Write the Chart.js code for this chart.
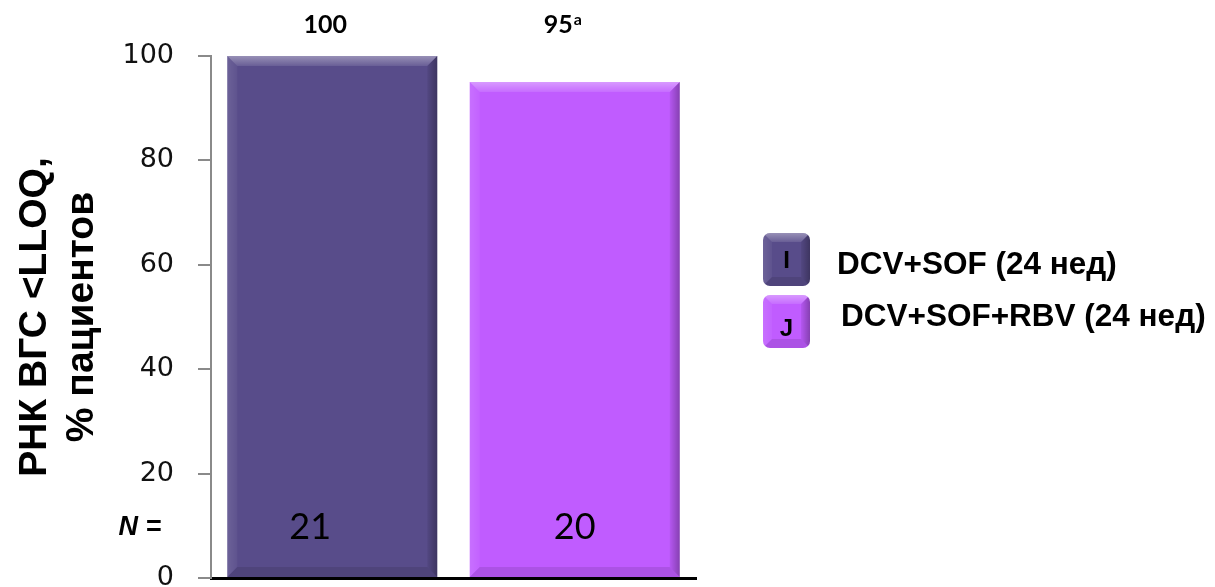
<!DOCTYPE html>
<html>
<head>
<meta charset="utf-8">
<script src="https://cdn.jsdelivr.net/npm/chart.js@4"></script>
<style>
  html, body { margin: 0; padding: 0; background: #ffffff; }
  #wrap { position: relative; width: 1215px; height: 587px; }
</style>
</head>
<body>
<div id="wrap"><canvas id="chart" width="1215" height="587"></canvas></div>
<script>
// Treatment arms, response rates (%) and patient numbers
const categories = ['DCV+SOF (24 нед)', 'DCV+SOF+RBV (24 нед)'];
const responseRates = [100, 95];
const rateNotes = ['', 'a'];
const patientCounts = [21, 20];
const legendKeys = ['I', 'J'];
const yTickValues = [0, 20, 40, 60, 80, 100];
const axisTitle = ['РНК ВГС <LLOQ,', '% пациентов'];
const countPrefix = 'N =';

const barColors = ['#584c8a', '#c05cff'];
const SANS = '"Liberation Sans", Arial, sans-serif';
const SOFT = 'Lato, "Open Sans", sans-serif';

// Glossy bevel on top of a rectangle (bars and legend keys)
function bevel(ctx, left, top, right, bottom, b) {
  ctx.save();
  // top band
  let g = ctx.createLinearGradient(0, top, 0, top + b);
  g.addColorStop(0, 'rgba(255,255,255,0.38)');
  g.addColorStop(1, 'rgba(255,255,255,0.10)');
  ctx.fillStyle = g;
  ctx.beginPath();
  ctx.moveTo(left, top); ctx.lineTo(right, top);
  ctx.lineTo(right - b, top + b); ctx.lineTo(left + b, top + b);
  ctx.closePath(); ctx.fill();
  // left band
  g = ctx.createLinearGradient(left, 0, left + b, 0);
  g.addColorStop(0, 'rgba(255,255,255,0.12)');
  g.addColorStop(1, 'rgba(255,255,255,0.04)');
  ctx.fillStyle = g;
  ctx.beginPath();
  ctx.moveTo(left, top); ctx.lineTo(left + b, top + b);
  ctx.lineTo(left + b, bottom - b); ctx.lineTo(left, bottom);
  ctx.closePath(); ctx.fill();
  // right band
  g = ctx.createLinearGradient(right - b, 0, right, 0);
  g.addColorStop(0, 'rgba(0,0,0,0.06)');
  g.addColorStop(1, 'rgba(0,0,0,0.30)');
  ctx.fillStyle = g;
  ctx.beginPath();
  ctx.moveTo(right, top); ctx.lineTo(right - b, top + b);
  ctx.lineTo(right - b, bottom - b); ctx.lineTo(right, bottom);
  ctx.closePath(); ctx.fill();
  // bottom band
  ctx.fillStyle = 'rgba(0,0,0,0.10)';
  ctx.beginPath();
  ctx.moveTo(left, bottom); ctx.lineTo(right, bottom);
  ctx.lineTo(right - b, bottom - b); ctx.lineTo(left + b, bottom - b);
  ctx.closePath(); ctx.fill();
  ctx.restore();
}

const bevelBars = {
  id: 'bevelBars',
  afterDatasetsDraw(chart) {
    const ctx = chart.ctx;
    chart.getDatasetMeta(0).data.forEach(bar => {
      const p = bar.getProps(['x', 'y', 'base', 'width'], true);
      bevel(ctx, p.x - p.width / 2, p.y, p.x + p.width / 2, p.base, 10);
    });
  }
};

const annotations = {
  id: 'annotations',
  afterDraw(chart, args, opts) {
    const ctx = chart.ctx;
    const area = chart.chartArea;
    const bars = chart.getDatasetMeta(0).data;
    ctx.save();
    ctx.fillStyle = '#000';
    ctx.textBaseline = 'middle';
    bars.forEach((bar, i) => {
      // value above each bar
      const main = String(responseRates[i]);
      const note = rateNotes[i];
      ctx.font = 'bold 25px ' + SOFT;
      const wMain = ctx.measureText(main).width;
      ctx.font = 'bold 16px ' + SOFT;
      const wNote = note ? ctx.measureText(note).width + 1 : 0;
      const cx = bar.x + opts.valueDx[i];
      const start = cx - (wMain + wNote) / 2;
      ctx.textAlign = 'left';
      ctx.font = 'bold 25px ' + SOFT;
      ctx.fillText(main, start, area.top - 31);
      if (note) {
        ctx.font = 'bold 16px ' + SOFT;
        ctx.fillText(note, start + wMain + 1, area.top - 36);
      }
      // patient count inside bar
      ctx.textAlign = 'center';
      ctx.font = '36px ' + SOFT;
      ctx.fillText(String(patientCounts[i]), bar.x + opts.countDx[i], area.bottom - 51);
    });
    ctx.textAlign = 'center';
    ctx.font = 'italic bold 27px ' + SANS;
    ctx.fillText(countPrefix, 140, area.bottom - 50);
    ctx.restore();
  }
};

function roundRect(ctx, x, y, w, h, r) {
  ctx.beginPath();
  ctx.moveTo(x + r, y);
  ctx.arcTo(x + w, y, x + w, y + h, r);
  ctx.arcTo(x + w, y + h, x, y + h, r);
  ctx.arcTo(x, y + h, x, y, r);
  ctx.arcTo(x, y, x + w, y, r);
  ctx.closePath();
}

const sideLegend = {
  id: 'sideLegend',
  afterDraw(chart, args, opts) {
    const ctx = chart.ctx;
    const colors = chart.data.datasets[0].backgroundColor;
    ctx.save();
    chart.data.labels.forEach((label, i) => {
      const bx = opts.x, by = opts.y + i * opts.step, bw = 47, bh = 53;
      ctx.save();
      roundRect(ctx, bx, by, bw, bh, 7);
      ctx.fillStyle = colors[i];
      ctx.fill();
      ctx.clip();
      bevel(ctx, bx, by, bx + bw, by + bh, 9);
      ctx.restore();
      ctx.fillStyle = '#000';
      ctx.textBaseline = 'middle';
      ctx.textAlign = 'center';
      ctx.font = 'bold 24px ' + SANS;
      ctx.fillText(legendKeys[i], bx + bw / 2, by + bh / 2 + (i === 0 ? 2 : 8));
      ctx.textAlign = 'left';
      ctx.font = 'bold 31.5px ' + SANS;
      ctx.fillText(label, opts.textX + i * 4, by + bh / 2 + (i === 0 ? 6 : -4));
    });
    ctx.restore();
  }
};

new Chart(document.getElementById('chart'), {
  type: 'bar',
  data: {
    labels: categories,
    datasets: [{
      data: responseRates,
      backgroundColor: barColors,
      borderWidth: 0,
      barPercentage: 1,
      categoryPercentage: 0.866
    }]
  },
  options: {
    responsive: false,
    devicePixelRatio: 1,
    animation: false,
    layout: { padding: { top: 56, right: 519, bottom: 9, left: 0 } },
    plugins: {
      legend: { display: false },
      tooltip: { enabled: false },
      annotations: { valueDx: [-7, -12], countDx: [-22, 0] },
      sideLegend: { x: 763, y: 233, step: 62, textX: 837 }
    },
    scales: {
      x: {
        z: 1,
        ticks: { display: false },
        grid: { display: false, drawTicks: false },
        border: { color: '#000', width: 3 }
      },
      y: {
        min: 0,
        max: 100,
        afterBuildTicks: s => { s.ticks = yTickValues.map(v => ({ value: v })); },
        ticks: {
          font: { family: '"DejaVu Sans", sans-serif', size: 27 },
          color: '#111',
          padding: 24
        },
        grid: { drawOnChartArea: false, tickLength: 13, color: '#8a8a8a', lineWidth: 2 },
        border: { color: '#8a8a8a', width: 2 },
        title: {
          display: true,
          text: axisTitle,
          color: '#000',
          font: { family: SANS, size: 39, weight: 'bold', lineHeight: 1.2 },
          padding: { top: 12, bottom: 0 }
        },
        afterFit: s => { s.width = 211; s.paddingTop = 0; s.paddingBottom = 0; }
      }
    }
  },
  plugins: [bevelBars, annotations, sideLegend]
});
</script>
</body>
</html>
